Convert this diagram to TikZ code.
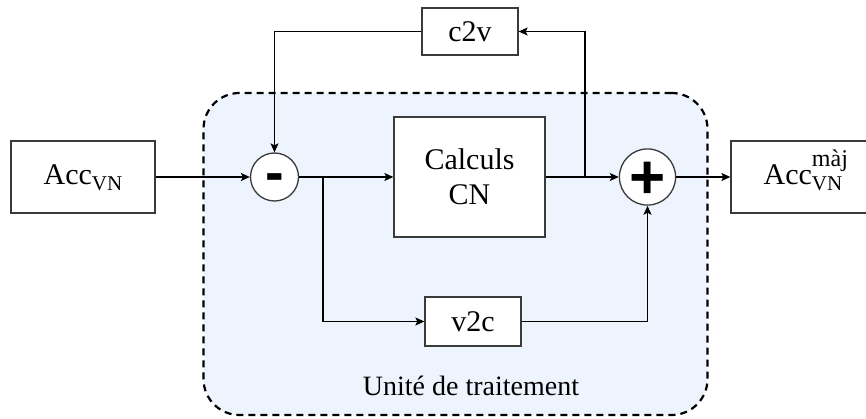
\documentclass[tikz,border=0pt]{standalone}
\usepackage{fontspec}
\usepackage{amsmath}
\setmainfont{Liberation Serif}
\setsansfont{Liberation Sans}
\usetikzlibrary{arrows.meta, positioning}
\definecolor{ctbg}{HTML}{EEF4FD}
\definecolor{ctstroke}{HTML}{3A3A3A}

\begin{document}
\begin{tikzpicture}[
  x=1pt, y=-1pt,
  every node/.style={font=\fontsize{28}{35}\selectfont},
  block/.style={draw=ctstroke, fill=white, line width=1.3pt, align=center,
                inner sep=0pt, font=\fontsize{30}{35}\selectfont},
  accbox/.style={block, minimum width=144pt, minimum height=72pt,
                 text height=22pt, text depth=6pt},
  sumop/.style={circle, draw=ctstroke, fill=white, line width=1.3pt,
                minimum size=48pt, inner sep=0pt, text depth=0pt},
  arrow/.style={-{Stealth[length=9pt, width=8pt, inset=2pt]}, line width=1.2pt},
  unit/.style={draw, fill=ctbg, line width=2.2pt, dash pattern=on 7pt off 5pt,
               rounded corners=36pt}
]
\useasboundingbox (0,0) rectangle (866,419);

% zone de traitement
\node[unit, minimum width=504pt, minimum height=322pt] (unit) at (455.5,254) {};
\node (unitlabel) at (471,386) {Unité de traitement};

% blocs
\node[accbox] (accin) at (83,177)
  {Acc\raisebox{-6pt}{\fontsize{21}{21}\selectfont VN}};
\node[sumop, font=\fontsize{56}{56}\selectfont\sffamily\bfseries,
      text height=30pt] (minus) at (274.5,177) {-};
\node[block, minimum width=151pt, minimum height=120pt] (calc) at (469.5,177)
  {Calculs\\CN};
\node[sumop, font=\fontsize{62}{62}\selectfont\sffamily\bfseries,
      text height=43pt] (plus) at (647.5,177) {+};
\node[accbox] (accout) at (803,177)
  {Acc\rlap{\raisebox{18pt}{\fontsize{24}{24}\selectfont màj}}%
   \raisebox{-6pt}{\fontsize{21}{21}\selectfont VN}};
\node[block, minimum width=96pt, minimum height=47pt] (c2v) at (470,31.5) {c2v};
\node[block, minimum width=96pt, minimum height=49pt] (v2c) at (473,321.5) {v2c};

\coordinate (split1) at (323,177);
\coordinate (split2) at (585,177);

% liaisons
\draw[arrow] (accin) -- (minus);
\draw[arrow] (minus) -- (calc);
\draw[arrow] (split1) |- (v2c.west);
\draw[arrow] (v2c.east) -| (plus.south);
\draw[arrow] (calc) -- (plus);
\draw[arrow] (split2) |- (c2v.east);
\draw[arrow] (c2v.west) -| (minus.north);
\draw[arrow] (plus) -- (accout);

\end{tikzpicture}
\end{document}
